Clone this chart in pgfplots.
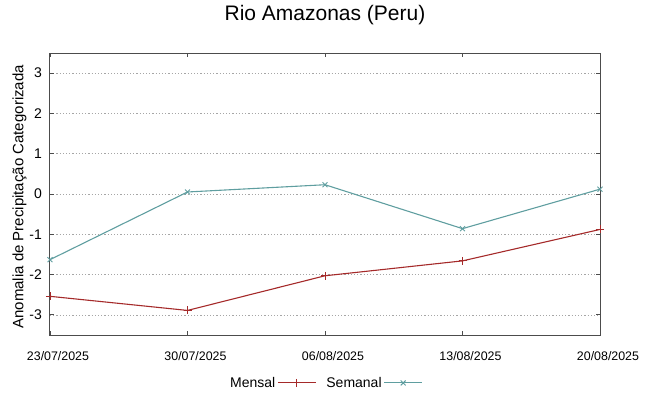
\documentclass[border=0pt]{standalone}
\usepackage{pgfplots}
\pgfplotsset{compat=1.18}
\usepackage{fontspec}
\setmainfont{Liberation Sans}
\definecolor{mred}{HTML}{A52A2A}
\definecolor{mteal}{HTML}{5F9EA0}
\begin{document}
\begin{tikzpicture}
\useasboundingbox (0,0) rectangle (649bp,396bp);
\begin{axis}[
  at={(50bp,61bp)}, anchor=south west,
  scale only axis, width=550bp, height=282bp,
  xmin=0, xmax=28, ymin=-3.5, ymax=3.5,
  xtick={0,7,14,21,28},
  xticklabels={23/07/2025,30/07/2025,06/08/2025,13/08/2025,20/08/2025},
  ytick={-3,-2,-1,0,1,2,3},
  /pgf/number format/assume math mode=true,
  tick align=inside, major tick length=4bp,
  tick style={black!70, line width=0.8bp},
  axis line style={black!70, line width=1bp},
  ymajorgrids,
  grid style={gray!70, line width=0.7bp, dash pattern=on 1.2bp off 2bp},
  xticklabel style={font=\fontsize{12.4bp}{14bp}\selectfont, anchor=base, yshift=-25.7bp, xshift=8bp},
  yticklabel style={font=\fontsize{14bp}{16bp}\selectfont, anchor=east, inner sep=0pt, xshift=-8bp},
  title={Rio Amazonas (Peru)},
  title style={font=\fontsize{21bp}{24bp}\selectfont, at={(0.5,1)}, anchor=base, yshift=26.5bp},
  ylabel={Anomalia de Precipitação Categorizada},
  ylabel style={font=\fontsize{15bp}{17bp}\selectfont, at={(axis description cs:-0.0555,0.49)}, anchor=center},
  legend columns=2,
  legend plot pos=right,
  legend style={at={(0.3236,-0.170)}, anchor=west, draw=none, fill=none, inner xsep=0pt,
    font=\fontsize{14bp}{16bp}\selectfont,
    /tikz/every even column/.append style={column sep=8bp}},
  legend image code/.code={\draw[mark repeat=2, mark phase=2] plot coordinates {(0bp,0bp) (19bp,0bp) (38bp,0bp)};},
]
\addplot[mred, line width=1.1bp, mark=+, mark size=4bp, mark options={line width=0.9bp}] coordinates {
  (0,-2.54) (7,-2.89) (14,-2.03) (21,-1.66) (28,-0.88)
};
\addlegendentry{Mensal}
\addplot[mteal, line width=1.1bp, mark=x, mark size=3.5bp, mark options={line width=0.9bp}] coordinates {
  (0,-1.63) (7,0.05) (14,0.23) (21,-0.86) (28,0.12)
};
\addlegendentry{Semanal}
\end{axis}
\end{tikzpicture}
\end{document}
